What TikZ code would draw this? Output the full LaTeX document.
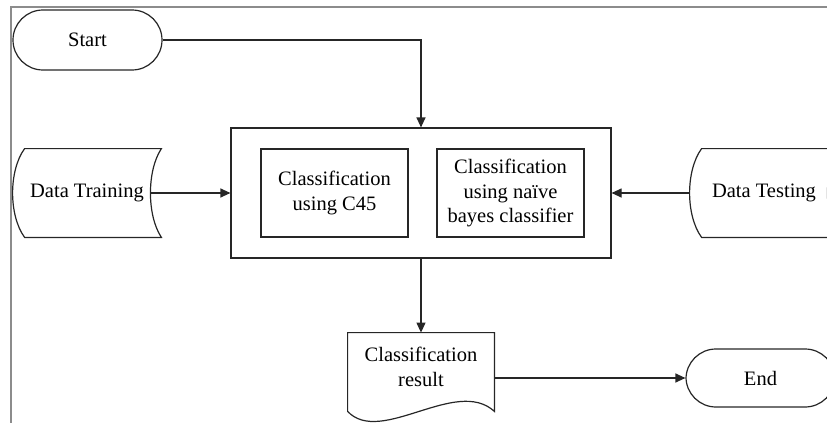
\documentclass[tikz,border=0pt]{standalone}
\usepackage{fontspec}
\setmainfont{Liberation Serif}
\usepackage{xcolor}
\usetikzlibrary{arrows.meta, positioning}
\definecolor{framegray}{RGB}{140,140,140}

\tikzset{
    flowline/.style={draw=black!85, line width=0.6pt},
    terminal/.style={flowline, rectangle, rounded corners=15pt, minimum width=74.5pt, minimum height=30pt},
    process/.style={flowline, rectangle, minimum width=73.5pt, minimum height=44pt, align=center, inner sep=2pt},
    stored/.style={rectangle, minimum width=74pt, minimum height=44pt, inner sep=0pt},
    docbox/.style={rectangle, minimum width=73pt, minimum height=34pt, align=center, inner sep=0pt}
}

\begin{document}
\begin{tikzpicture}[>={Triangle[length=5pt,width=4.5pt]}, on grid, font=\fontsize{10.25}{12.2}\selectfont]
        \useasboundingbox (0,0) rectangle (413.5pt,-211.5pt);
        \clip (0,0) rectangle (413.5pt,-211.5pt);
        \draw[framegray, line width=1pt] (5.25pt,-211.5pt) -- (5.25pt,-3.6pt) -- (413.5pt,-3.6pt);

        \node[flowline, minimum width=190pt, minimum height=65pt] (box) at (210.5pt,-96.5pt) {};
        \node[process]                 (c45)    [left=43.25pt of box]     {Classification\\using C45};
        \node[process]                 (naive)  [right=44.75pt of box]    {Classification\\using naïve\\bayes classifier};
        \node[terminal]                (start)  at (43.75pt,-20pt)        {Start};
        \node[stored]                  (train)  [left=167pt of box]       {Data Training};
        \node[stored]                  (test)   [right=171.5pt of box]    {Data Testing};
        \node[docbox]                  (result) [below=87pt of box]       {Classification\\result};
        \node[terminal, minimum height=29pt] (end) at (380.25pt,-189pt)  {End};

        % stored data outlines
        \foreach \n in {train, test}
            \draw[flowline] ([xshift=6pt]\n.north west) -- (\n.north east)
            .. controls ([xshift=-7.3pt,yshift=-11pt]\n.north east) and ([xshift=-7.3pt,yshift=11pt]\n.south east) .. (\n.south east)
            -- ([xshift=6pt]\n.south west)
            .. controls ([xshift=-2pt,yshift=11pt]\n.south west) and ([xshift=-2pt,yshift=-11pt]\n.north west) .. ([xshift=6pt]\n.north west)
            -- cycle;

        % document outline, wavy foot below the text box
        \draw[flowline] ([yshift=-5pt]result.south west) -- (result.north west) -- (result.north east) -- ([yshift=-5pt]result.south east)
            .. controls ([xshift=-19pt,yshift=12.5pt]result.south east) and ([xshift=16.5pt,yshift=-22.5pt]result.south west) .. ([yshift=-5pt]result.south west)
            -- cycle;

        \draw[flowline, ->] (start) -| (box);
        \draw[flowline, ->] ([xshift=-5.5pt]train.east) -- (box);
        \draw[flowline, ->] (test) -- (box);
        \draw[flowline, ->] (box) -- (result);
        \draw[flowline, ->] (result.east |- end) -- (end);
    \end{tikzpicture}
\end{document}
